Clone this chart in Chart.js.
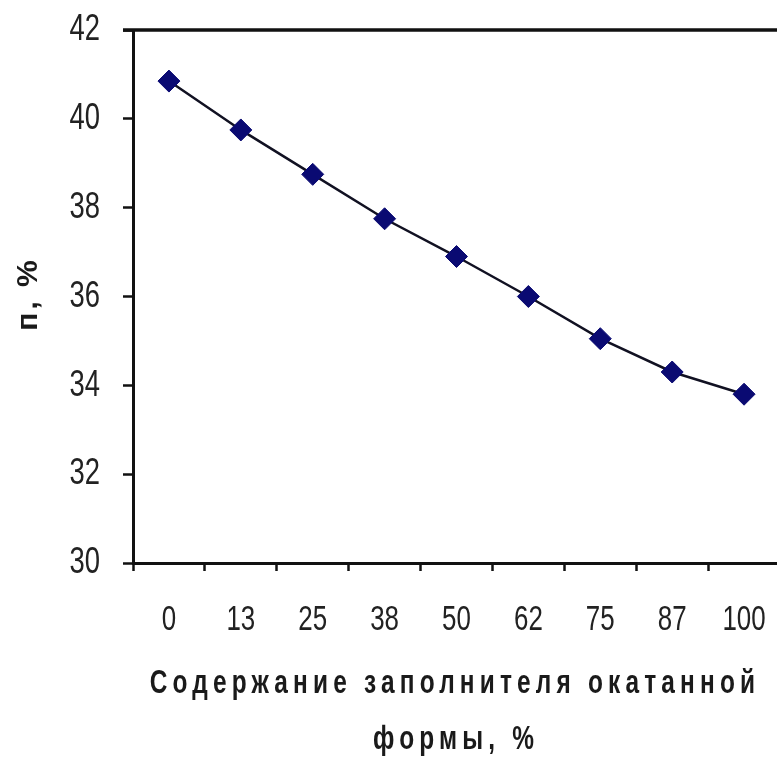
<!DOCTYPE html>
<html>
<head>
<meta charset="utf-8">
<script src="https://cdn.jsdelivr.net/npm/chart.js@4"></script>
<style>
  html, body { margin: 0; padding: 0; overflow: hidden; background: #fff; }
</style>
</head>
<body>
<canvas id="myChart" width="792" height="759"></canvas>
<script>
const categories = ['0', '13', '25', '38', '50', '62', '75', '87', '100'];
const porosity = [40.85, 39.75, 38.75, 37.75, 36.9, 36.0, 35.05, 34.3, 33.8];
const yTicks = [30, 32, 34, 36, 38, 40, 42];
const xTitle = ['Содержание заполнителя окатанной', 'формы, %'];
const yTitle = 'п, %';

const fontFamily = "'Liberation Sans', Arial, sans-serif";

// the original uses a narrow font; squeeze canvas text horizontally
const canvas = document.getElementById('myChart');
const ctx2d = canvas.getContext('2d');
const rawFillText = ctx2d.fillText.bind(ctx2d);
const rawMeasureText = ctx2d.measureText.bind(ctx2d);
ctx2d.squeeze = 0.74;
ctx2d.fillText = function (text, x, y) {
  if (this.squeeze === 1) {
    rawFillText(text, x, y);
    return;
  }
  this.save();
  this.translate(x, y);
  this.scale(this.squeeze, 1);
  rawFillText(text, 0, 0);
  this.restore();
};
ctx2d.measureText = function (text) {
  const m = rawMeasureText(text);
  return { width: m.width * this.squeeze };
};

// top frame line and the two axis titles
const frameAndTitles = {
  id: 'frameAndTitles',
  afterDraw(chart) {
    const { ctx, chartArea } = chart;
    ctx.save();
    ctx.strokeStyle = '#111';
    ctx.lineWidth = 3.5;
    ctx.beginPath();
    ctx.moveTo(chartArea.left - 10, chartArea.top);
    ctx.lineTo(chart.width, chartArea.top);
    ctx.stroke();

    ctx.fillStyle = '#1a1a1a';
    ctx.textAlign = 'center';
    ctx.textBaseline = 'middle';

    ctx.font = 'bold 33px ' + fontFamily;
    ctx.letterSpacing = '7px';
    ctx.fillText(xTitle[0], 455, 684);
    ctx.fillText(xTitle[1], 456, 740);

    ctx.squeeze = 1;
    ctx.font = 'bold 30px ' + fontFamily;
    ctx.letterSpacing = '3px';
    ctx.translate(29, 294);
    ctx.rotate(-Math.PI / 2);
    ctx.fillText(yTitle, 0, 0);
    ctx.squeeze = 0.74;
    ctx.restore();
  },
};

const config = {
  type: 'line',
  data: {
    labels: categories,
    datasets: [
      {
        label: yTitle,
        data: porosity,
        borderColor: '#111122',
        borderWidth: 2.5,
        pointStyle: 'rectRot',
        pointRadius: 11,
        pointBackgroundColor: '#0a0a72',
        pointBorderColor: '#0a0a72',
        pointBorderWidth: 1,
        tension: 0,
      },
    ],
  },
  options: {
    responsive: false,
    animation: false,
    devicePixelRatio: 1,
    layout: { padding: { top: 30, right: 2, left: 0, bottom: 0 } },
    plugins: {
      legend: { display: false },
      tooltip: { enabled: false },
    },
    scales: {
      x: {
        offset: true,
        afterFit(scale) {
          scale.height = 196;
          scale.paddingLeft = 0;
          scale.paddingRight = 0;
        },
        grid: {
          offset: true,
          drawOnChartArea: false,
          tickLength: 8,
          tickWidth: 2.5,
          tickColor: '#111',
        },
        border: { color: '#111', width: 3 },
        ticks: {
          color: '#222',
          padding: 28,
          maxRotation: 0,
          autoSkip: false,
          font: { family: fontFamily, size: 35 },
        },
      },
      y: {
        min: 30,
        max: 42,
        afterFit(scale) {
          scale.width = 133;
          scale.paddingTop = 0;
          scale.paddingBottom = 0;
        },
        afterBuildTicks(scale) {
          scale.ticks = yTicks.map((v) => ({ value: v }));
        },
        grid: {
          drawOnChartArea: false,
          tickLength: 10,
          tickWidth: 2.5,
          tickColor: '#111',
        },
        border: { color: '#111', width: 3 },
        ticks: {
          color: '#222',
          padding: 23,
          font: { family: fontFamily, size: 37 },
        },
      },
    },
  },
  plugins: [frameAndTitles],
};

const myChart = new Chart(canvas, config);
</script>
</body>
</html>
